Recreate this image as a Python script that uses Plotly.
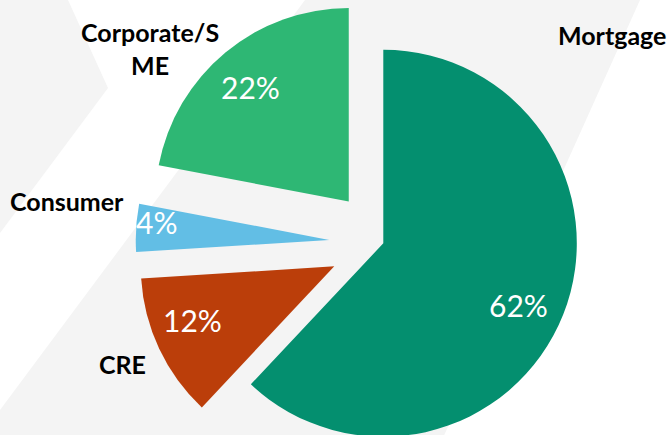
import math
import plotly.graph_objects as go

# Loan book composition (share of total, %)
labels = ["Mortgage", "CRE", "Consumer", "Corporate/SME"]
values = [62, 12, 4, 22]
colors = ["#048F6F", "#BB3E0A", "#62BEE5", "#2EB774"]
explode = [0.0, 0.28, 0.28, 0.28]

W, H = 668, 460
R = 193.5                 # pie radius in px
CENTER = (383.3, 243.3)   # pie centre in px


def px_x(x):
    return x / W


def px_y(y):
    return 1 - y / H


fig = go.Figure()

# one trace per segment so each can be moved outward along its own mid-angle
total = sum(values)
cum = 0.0
for i, (lab, val) in enumerate(zip(labels, values)):
    mid = 2 * math.pi * (cum + val / 2) / total
    cum += val
    off = explode[i] * R
    cx = CENTER[0] + off * math.sin(mid)
    cy = CENTER[1] - off * math.cos(mid)
    seg_colors = ["rgba(0,0,0,0)"] * len(values)
    seg_colors[i] = colors[i]
    fig.add_trace(go.Pie(
        labels=labels,
        values=values,
        sort=False,
        direction="clockwise",
        rotation=0,
        marker=dict(colors=seg_colors, line=dict(width=0)),
        textinfo="none",
        hoverinfo="skip",
        showlegend=False,
        domain=dict(x=[px_x(cx - R), px_x(cx + R)],
                    y=[px_y(cy + R), px_y(cy - R)]),
    ))

# category names
name_pos = {
    "Mortgage": (612, 35),
    "CRE": (122, 364),
    "Consumer": (67, 201),
    "Corporate/SME": (150, 49),
}
name_text = {"Corporate/SME": "Corporate/S<br>ME"}
for lab in labels:
    x, y = name_pos[lab]
    fig.add_annotation(
        x=px_x(x), y=px_y(y), xref="paper", yref="paper",
        text=name_text.get(lab, lab), showarrow=False,
        xanchor="center", yanchor="middle",
        font=dict(family="Lato", size=25, color="#000000", weight="bold"),
    )

# percentage labels on the segments
pct_pos = {
    "Mortgage": (518, 305),
    "CRE": (193, 320),
    "Consumer": (156, 222),
    "Corporate/SME": (250, 87),
}
for lab, val in zip(labels, values):
    x, y = pct_pos[lab]
    fig.add_annotation(
        x=px_x(x), y=px_y(y), xref="paper", yref="paper",
        text=f"{val}%", showarrow=False,
        xanchor="center", yanchor="middle",
        font=dict(family="Lato", size=30, color="#FFFFFF"),
    )


def path(points):
    return "M " + " L ".join(f"{px_x(x)},{px_y(y)}" for x, y in points) + " Z"


# light grey chevron bands behind the chart
band_grey = "#F4F4F4"
fig.add_shape(type="path", xref="paper", yref="paper", layer="below",
              path=path([(0, 0), (68, 0), (108, 88), (0, 233)]),
              fillcolor=band_grey, line=dict(width=0))
fig.add_shape(type="path", xref="paper", yref="paper", layer="below",
              path=path([(305, 0), (640, 0), (640 - 0.45 * H, H), (0, H), (0, 410)]),
              fillcolor=band_grey, line=dict(width=0))

fig.update_layout(
    width=W, height=H,
    margin=dict(l=0, r=0, t=0, b=0),
    paper_bgcolor="#FFFFFF",
    plot_bgcolor="#FFFFFF",
    showlegend=False,
)

fig.write_html("out.html")
